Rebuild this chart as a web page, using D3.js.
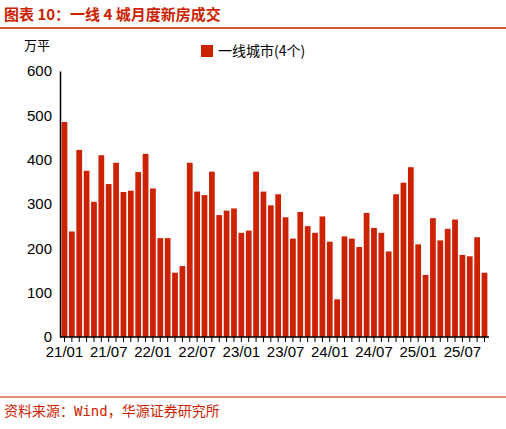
<!DOCTYPE html>
<html><head><meta charset="utf-8">
<script src="https://cdn.jsdelivr.net/npm/d3@7"></script>
<style>body{margin:0;background:#fff;font-family:Arial,"Liberation Sans","Noto Sans CJK SC",sans-serif;}</style>
</head><body><svg id="c" width="506" height="429"></svg>
<script>
const months = [];
for (let y = 21; y <= 25; y++) for (let m = 1; m <= 12; m++) {
  if (y === 25 && m > 10) break;
  months.push(`${y}/${String(m).padStart(2, "0")}`);
}
const values = [
  485, 238, 422, 375, 305, 410, 345, 393, 327, 330, 372, 413,
  335, 223, 223, 145, 160, 393, 328, 320, 373, 275, 285, 290,
  235, 240, 373, 328, 297, 322, 270, 222, 282, 250, 235, 272,
  215, 85, 227, 222, 203, 280, 246, 235, 193, 322, 348, 383,
  209, 140, 268, 218, 244, 265, 185, 182, 225, 145
];
const yTicks = [0, 100, 200, 300, 400, 500, 600];
const red = "#cc2200";

const svg = d3.select("#c");
const cjk = "'Noto Sans CJK SC',sans-serif";

svg.append("text").attr("x", 4).attr("y", 20).attr("fill", red)
  .attr("font-size", 15).attr("font-weight", "bold").style("font-family", cjk)
  .text("图表 10：一线 4 城月度新房成交");
svg.append("line").attr("x1", 0).attr("x2", 506).attr("y1", 28).attr("y2", 28)
  .attr("stroke", red).attr("stroke-width", 1.5);

const x = d3.scaleBand().domain(months).range([60, 489]).padding(0.22);
const y = d3.scaleLinear().domain([0, 600]).range([337, 71]);

svg.append("g").selectAll("rect").data(values).join("rect")
  .attr("x", (d, i) => x(months[i])).attr("width", x.bandwidth())
  .attr("y", d => y(d)).attr("height", d => y(0) - y(d)).attr("fill", red);

const yAxis = svg.append("g").attr("transform", "translate(60,0)")
  .call(d3.axisLeft(y).tickValues(yTicks).tickSize(0).tickPadding(8));
yAxis.select(".domain").attr("stroke", "#000").attr("stroke-width", 1.5);
yAxis.selectAll("text").attr("font-size", 15).attr("fill", "#000").style("font-family", "Arial,'Liberation Sans'");

const xAxis = svg.append("g").attr("transform", "translate(0,337)")
  .call(d3.axisBottom(x).tickSize(5).tickPadding(4)
    .tickFormat((d, i) => i % 6 === 0 ? d : ""));
xAxis.select(".domain").attr("stroke", "#000").attr("stroke-width", 1.5).attr("d", "M60,0H489");
xAxis.selectAll(".tick line").attr("stroke", "#000");
xAxis.selectAll("text").attr("font-size", 15).attr("fill", "#000").style("font-family", "Arial,'Liberation Sans'");

svg.append("text").attr("x", 24).attr("y", 50).attr("font-size", 13)
  .style("font-family", cjk).text("万平");

svg.append("rect").attr("x", 201).attr("y", 45).attr("width", 12).attr("height", 12).attr("fill", red);
svg.append("text").attr("x", 218).attr("y", 56).attr("font-size", 14)
  .style("font-family", cjk).text("一线城市(4个)");

svg.append("line").attr("x1", 0).attr("x2", 506).attr("y1", 397).attr("y2", 397)
  .attr("stroke", red).attr("stroke-width", 1);
svg.append("text").attr("x", 4).attr("y", 416).attr("fill", red).attr("font-size", 14)
  .style("font-family", "'DejaVu Sans Mono','Noto Sans CJK SC',monospace")
  .text("资料来源：Wind，华源证券研究所");
</script></body></html>
